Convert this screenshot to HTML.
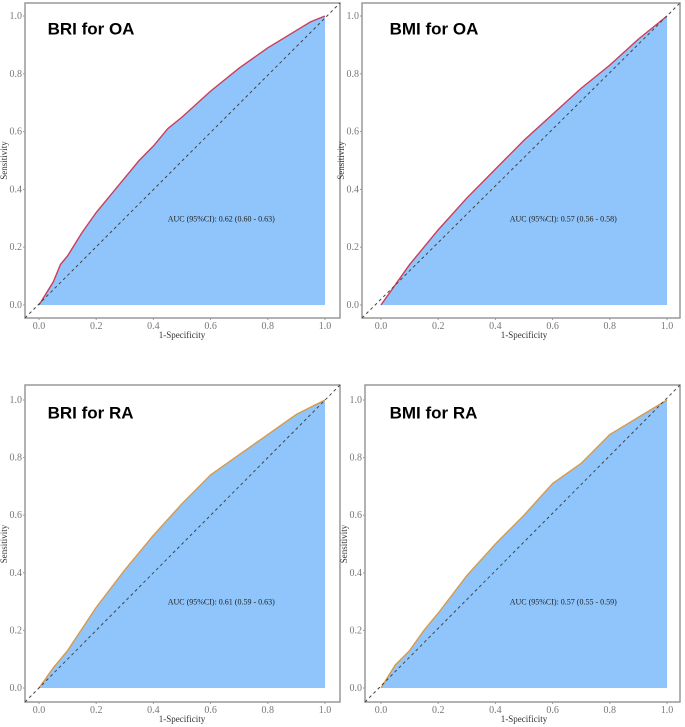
<!DOCTYPE html>
<html><head><meta charset="utf-8"><style>
body{margin:0;background:#fff;width:685px;height:727px;overflow:hidden}
svg{display:block}
</style></head><body>
<svg id="c" width="685" height="727"></svg>
<script>
const xsBriOa=[0,0.05,0.075,0.1,0.15,0.2,0.25,0.3,0.35,0.4,0.45,0.5,0.6,0.7,0.8,0.9,0.95,1];
const ysBriOa=[0,0.08,0.14,0.17,0.25,0.32,0.38,0.44,0.5,0.55,0.61,0.65,0.74,0.82,0.89,0.95,0.98,1];
const xsBmiOa=[0,0.05,0.1,0.2,0.3,0.4,0.5,0.6,0.7,0.8,0.9,1];
const ysBmiOa=[0,0.07,0.14,0.26,0.37,0.47,0.57,0.66,0.75,0.83,0.92,1];
const xsBriRa=[0,0.05,0.1,0.2,0.3,0.4,0.5,0.6,0.7,0.8,0.9,1];
const ysBriRa=[0,0.07,0.13,0.28,0.41,0.53,0.64,0.74,0.81,0.88,0.95,1];
const xsBmiRa=[0,0.05,0.1,0.15,0.2,0.3,0.4,0.5,0.6,0.7,0.8,0.9,1];
const ysBmiRa=[0,0.08,0.13,0.2,0.26,0.39,0.5,0.6,0.71,0.78,0.88,0.94,1];
const tickLabels=["0.0","0.2","0.4","0.6","0.8","1.0"];
const tickVals=[0,0.2,0.4,0.6,0.8,1];
const titles=["BRI for OA","BMI for OA","BRI for RA","BMI for RA"];
const aucs=["AUC (95%CI): 0.62 (0.60 - 0.63)","AUC (95%CI): 0.57 (0.56 - 0.58)","AUC (95%CI): 0.61 (0.59 - 0.63)","AUC (95%CI): 0.57 (0.55 - 0.59)"];
const NS="http://www.w3.org/2000/svg";
const svg=document.getElementById('c');
function mk(t,a,p){const e=document.createElementNS(NS,t);for(const k in a)e.setAttribute(k,a[k]);(p||svg).appendChild(e);return e;}
const panels=[
 {bx:25,by:3,bw:315,bh:315,x0:39,x1:325,y0:305,y1:16,xs:xsBriOa,ys:ysBriOa,col:"#cc3d5a"},
 {bx:362,by:3,bw:318,bh:315,x0:381,x1:667,y0:305,y1:16,xs:xsBmiOa,ys:ysBmiOa,col:"#cc3d5a"},
 {bx:25,by:385,bw:315,bh:317,x0:39,x1:325,y0:688,y1:400,xs:xsBriRa,ys:ysBriRa,col:"#d89a4a"},
 {bx:365,by:385,bw:315,bh:317,x0:381,x1:667,y0:688,y1:400,xs:xsBmiRa,ys:ysBmiRa,col:"#d89a4a"}];
panels.forEach((p,i)=>{
 const g=mk('g',{});
 
 
 const sx=v=>p.x0+v*(p.x1-p.x0), sy=v=>p.y0-v*(p.y0-p.y1);
 const fr=mk('rect',{x:p.bx,y:p.by,width:p.bw,height:p.bh,fill:'#fff',stroke:'#999','stroke-width':1.5},g);
 
 let d='M'+sx(0)+','+sy(0);
 p.xs.forEach((x,j)=>{d+=' L'+sx(x)+','+sy(p.ys[j]);});
 const area=mk('path',{d:d+' L'+sx(1)+','+sy(0)+' Z',fill:'#8fc5fb'},g);
 
 const ln=mk('path',{d:d,fill:'none',stroke:p.col,'stroke-width':1.4},g);
 
 const dg=mk('line',{x1:p.bx,y1:p.by+p.bh,x2:p.bx+p.bw,y2:p.by,stroke:'#444','stroke-width':1,'stroke-dasharray':'3,3'},g);
 
 tickVals.forEach((v,j)=>{
  const ty=mk('text',{x:p.bx-3,y:sy(v)+3,'text-anchor':'end','font-family':'Liberation Serif, serif','font-size':10,fill:'#777'},g);
  ty.textContent=tickLabels[j];
  mk('line',{x1:p.bx-2,x2:p.bx,y1:sy(v),y2:sy(v),stroke:'#999'},g);
  const tx=mk('text',{x:sx(v),y:p.by+p.bh+11,'text-anchor':'middle','font-family':'Liberation Serif, serif','font-size':10,fill:'#777'},g);
  tx.textContent=tickLabels[j];
  mk('line',{x1:sx(v),x2:sx(v),y1:p.by+p.bh,y2:p.by+p.bh+2,stroke:'#999'},g);
 });
 const xt=mk('text',{x:(p.x0+p.x1)/2,y:p.by+p.bh+20,'text-anchor':'middle','font-family':'Liberation Serif, serif','font-size':9,fill:'#333'},g);
 xt.textContent='1-Specificity';
 const cy=(p.y0+p.y1)/2, cx=p.bx-18;
 const yt=mk('text',{x:cx,y:cy,'text-anchor':'middle','font-family':'Liberation Serif, serif','font-size':9,fill:'#333',transform:'rotate(-90 '+cx+' '+cy+')'},g);
 yt.textContent='Sensitivity';
 const tt=mk('text',{x:sx(0.03),y:sy(0.95)+4,'font-family':'Liberation Sans, sans-serif','font-size':17,'font-weight':'bold',fill:'#000'},g);
 tt.textContent=titles[i];
 const at=mk('text',{x:sx(0.45),y:sy(0.3)+3,'font-family':'Liberation Serif, serif','font-size':8,fill:'#222'},g);
 at.textContent=aucs[i];
});
</script>
</body></html>
